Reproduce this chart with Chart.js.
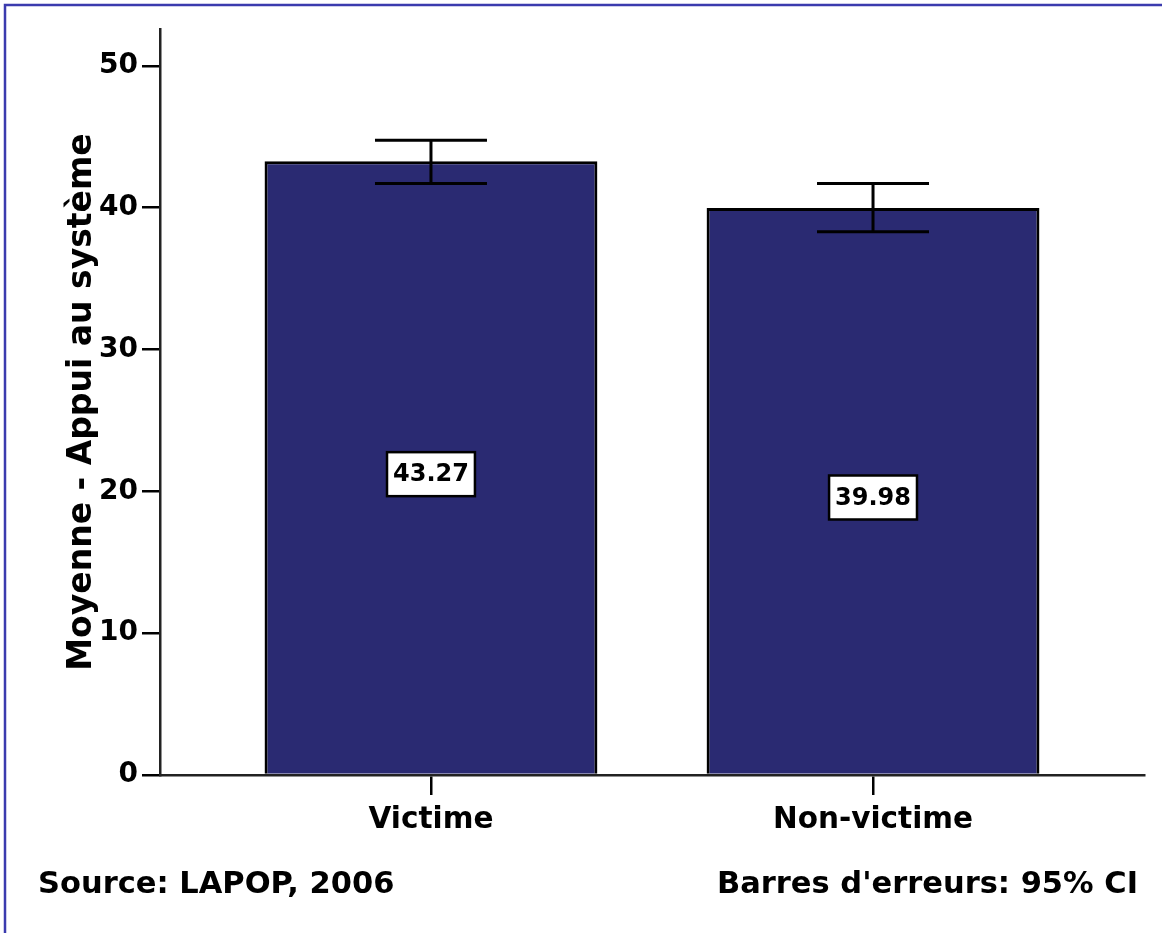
<!DOCTYPE html>
<html>
<head>
<meta charset="utf-8">
<title>Appui au système</title>
<script src="https://cdn.jsdelivr.net/npm/chart.js@4/dist/chart.umd.min.js"></script>
<style>
  html, body { margin: 0; padding: 0; background: #fff; }
  #wrap { width: 1162px; height: 933px; position: relative; }
</style>
</head>
<body>
<div id="wrap"><canvas id="chart"></canvas></div>
<script>
/* ── Data ───────────────────────────────────────────────────── */
const categories = ['Victime', 'Non-victime'];
const means      = [43.27, 39.98];
const ciLow      = [41.7, 38.3];
const ciHigh     = [44.75, 41.7];
const yTicks     = [0, 10, 20, 30, 40, 50];

const FONT    = "'DejaVu Sans', sans-serif";
const BAR     = '#2a2a72';

/* ── Frame + background + footer notes ──────────────────────── */
const framePlugin = {
  id: 'frame',
  beforeDraw(chart) {
    const c = chart.ctx;
    c.save();
    c.fillStyle = '#fff';
    c.fillRect(0, 0, chart.width, chart.height);
    c.strokeStyle = '#3b3bae';
    c.lineWidth = 2.5;
    c.beginPath();
    c.moveTo(5, chart.height);
    c.lineTo(5, 5);
    c.lineTo(chart.width, 5);
    c.stroke();
    c.restore();
  },
  afterDraw(chart) {
    const c = chart.ctx;
    c.save();
    c.fillStyle = '#000';
    c.font = 'bold 30.5px ' + FONT;
    c.textBaseline = 'middle';
    c.textAlign = 'left';
    c.fillText('Source: LAPOP, 2006', 38, 885);
    c.textAlign = 'right';
    c.fillText("Barres d'erreurs: 95% CI", 1138, 885);
    c.restore();
  }
};

/* ── Error bars + value boxes ───────────────────────────────── */
const errorPlugin = {
  id: 'errors',
  afterDatasetsDraw(chart) {
    const c  = chart.ctx;
    const xs = chart.scales.x, ys = chart.scales.y;
    c.save();
    means.forEach((m, i) => {
      const x  = xs.getPixelForValue(i);
      const y1 = ys.getPixelForValue(ciHigh[i]);
      const y2 = ys.getPixelForValue(ciLow[i]);
      const cap = 56;
      c.strokeStyle = '#000';
      c.lineWidth = 3;
      c.beginPath();
      c.moveTo(x, y1); c.lineTo(x, y2);
      c.moveTo(x - cap, y1); c.lineTo(x + cap, y1);
      c.moveTo(x - cap, y2); c.lineTo(x + cap, y2);
      c.stroke();

      // value label box around the middle of the bar
      const label = m.toFixed(2);
      c.font = 'bold 24px ' + FONT;
      const w = c.measureText(label).width + 12;
      const h = 44;
      const cy = ys.getPixelForValue(m / 2) + 6;
      c.fillStyle = '#fff';
      c.fillRect(x - w / 2, cy - h / 2, w, h);
      c.lineWidth = 2.5;
      c.strokeRect(x - w / 2, cy - h / 2, w, h);
      c.fillStyle = '#000';
      c.textAlign = 'center';
      c.textBaseline = 'middle';
      c.fillText(label, x, cy + 1);
    });
    c.restore();
  }
};

/* ── Chart ──────────────────────────────────────────────────── */
new Chart(document.getElementById('chart'), {
  type: 'bar',
  data: {
    datasets: [{
      data: means.map((v, i) => ({ x: i, y: v })),
      backgroundColor: BAR,
      borderColor: '#000',
      borderWidth: 3,
      borderSkipped: 'bottom',
      barPercentage: 0.753,
      categoryPercentage: 1
    }]
  },
  options: {
    responsive: true,
    maintainAspectRatio: false,
    animation: false,
    layout: { padding: { left: 63, top: 29, right: 18, bottom: 0 } },
    plugins: {
      legend: { display: false },
      tooltip: { enabled: false }
    },
    scales: {
      x: {
        type: 'linear',
        offset: false,
        min: -0.613,
        max: 1.613,
        afterBuildTicks: s => { s.ticks = categories.map((c, i) => ({ value: i })); },
        afterFit: s => { s.height = 158; },
        ticks: {
          color: '#000',
          font: { family: FONT, size: 29.5, weight: 'bold' },
          padding: 8,
          maxRotation: 0,
          callback: v => categories[v]
        },
        grid: { offset: false, drawOnChartArea: false, color: '#000', lineWidth: 2.5, tickLength: 20 },
        border: { color: '#222', width: 2.5 }
      },
      y: {
        min: 0,
        max: 52.6,
        afterBuildTicks: s => { s.ticks = yTicks.map(v => ({ value: v })); },
        afterFit: s => { s.width = 97; },
        ticks: {
          color: '#000',
          font: { family: FONT, size: 28, weight: 'bold' },
          padding: 4
        },
        grid: { drawOnChartArea: false, color: '#000', lineWidth: 2.5, tickLength: 18 },
        border: { color: '#222', width: 2.5 },
        title: {
          display: true,
          text: 'Moyenne - Appui au système',
          color: '#000',
          padding: 0,
          font: { family: FONT, size: 33, weight: 'bold' }
        }
      }
    }
  },
  plugins: [framePlugin, errorPlugin]
});
</script>
</body>
</html>
